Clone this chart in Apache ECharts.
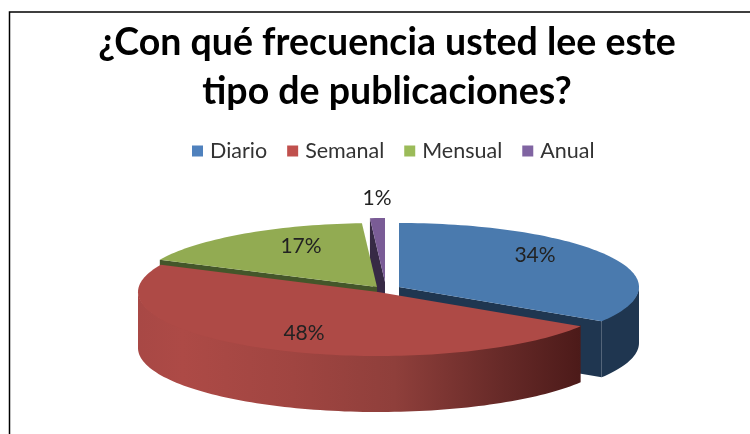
<!DOCTYPE html>
<html>
<head>
<meta charset="utf-8">
<style>
  html, body { margin: 0; padding: 0; background: #fff; }
  #chart { width: 750px; height: 434px; }
</style>
<script src="https://cdn.jsdelivr.net/npm/echarts@6/dist/echarts.min.js"></script>
</head>
<body>
<div id="chart"></div>
<script>
var categories = ['Diario', 'Semanal', 'Mensual', 'Anual'];
var shares = [34, 48, 17, 1];
var titleLines = ['¿Con qué frecuencia usted lee este', 'tipo de publicaciones?'];

var legendColors = ['#4f81bd', '#c0504d', '#9bbb59', '#8064a2'];
var topColors = ['#4a7aae', '#ae4a46', '#92ab52', '#7a5c96'];
var wallColors = ['#1f3650', '#4d1b1a', '#44562a', '#372a45'];

// each slice is pulled out a little, so every one has its own apex
var apex = [[399, 287], [378, 292], [377, 287], [385, 282]];
var labelAt = [[535, 255], [304, 333], [301, 246], [377, 198]];
var RX = 240, RY = 64, DEPTH = 56;

// clockwise from 12 o'clock, in degrees
var total = shares.reduce(function (a, b) { return a + b; }, 0);
function startAngle(i) {
  var sum = 0;
  for (var k = 0; k < i; k++) sum += shares[k];
  return sum / total * 360;
}

function rim(c, deg, down) {
  var r = deg * Math.PI / 180;
  return [c[0] + RX * Math.sin(r), c[1] - RY * Math.cos(r) + (down || 0)];
}

function arc(c, from, to, down) {
  var pts = [];
  var steps = Math.max(2, Math.ceil(Math.abs(to - from) / 1.5));
  for (var s = 0; s <= steps; s++) pts.push(rim(c, from + (to - from) * s / steps, down));
  return pts;
}

function poly(points, fill) {
  return { type: 'polygon', shape: { points: points }, style: { fill: fill } };
}

// flat cut face between the apex and the rim
function cutWall(c, deg, fill) {
  var p = rim(c, deg);
  return poly([c, p, [p[0], p[1] + DEPTH], [c[0], c[1] + DEPTH]], fill);
}

function renderSlice(i) {
  return function (params, api) {
    var value = api.value(0);
    var from = startAngle(i);
    var to = from + value / total * 360;
    var c = apex[i];
    var kids = [];

    if (i === 0) kids.push(cutWall(c, to, wallColors[0]));
    if (i === 2) kids.push(cutWall(c, from, wallColors[2]));
    if (i === 3) kids.push(cutWall(c, from, wallColors[3]));

    // outer wall, only the part that faces the viewer
    var a = Math.max(from, 90), b = Math.min(to, 270);
    if (b > a) {
      var wallFill = wallColors[i];
      if (i === 1) {
        wallFill = new echarts.graphic.LinearGradient(1, 0, 0, 0, [
          { offset: 0, color: '#4c1a19' },
          { offset: 0.18, color: '#672a28' },
          { offset: 0.42, color: '#8f3f3b' },
          { offset: 0.65, color: '#a04541' },
          { offset: 0.9, color: '#ad4a46' },
          { offset: 1, color: '#a84845' }
        ]);
      }
      // top edge tucked 1px under the face so no seam shows
      kids.push(poly(arc(c, a, b, -1).concat(arc(c, b, a, DEPTH)), wallFill));
    }

    kids.push(poly([c].concat(arc(c, from, to)), topColors[i]));
    kids.push({
      type: 'text',
      style: {
        x: labelAt[i][0], y: labelAt[i][1], text: value + '%',
        fill: '#222', font: '21px Lato', align: 'center', verticalAlign: 'middle'
      }
    });
    return { type: 'group', children: kids };
  };
}

// back to front
var drawOrder = [0, 3, 2, 1];
var series = categories.map(function (name, i) {
  return {
    name: name,
    type: 'custom',
    coordinateSystem: 'none',
    z: 2 + drawOrder.indexOf(i),
    silent: true,
    animation: false,
    itemStyle: { color: legendColors[i] },
    renderItem: renderSlice(i),
    data: [[shares[i]]]
  };
});

var chart = echarts.init(document.getElementById('chart'));
chart.setOption({
  animation: false,
  title: {
    text: titleLines.join('\n'),
    left: 382,
    textAlign: 'center',
    top: 13,
    textStyle: { fontFamily: 'Lato', fontSize: 37.5, fontWeight: 'bold', color: '#000', lineHeight: 49 }
  },
  legend: {
    data: categories,
    left: 187,
    top: 135,
    icon: 'rect',
    itemWidth: 11,
    itemHeight: 11,
    itemGap: 20,
    textStyle: { fontFamily: 'Lato', fontSize: 21.5, color: '#333', padding: [0, 0, 0, 2] }
  },
  graphic: [{
    type: 'polyline',
    silent: true,
    shape: { points: [[9.5, 434], [9.5, 12], [750, 12]] },
    style: { stroke: '#000', lineWidth: 1.5, fill: 'none' }
  }],
  series: series
});
</script>
</body>
</html>
